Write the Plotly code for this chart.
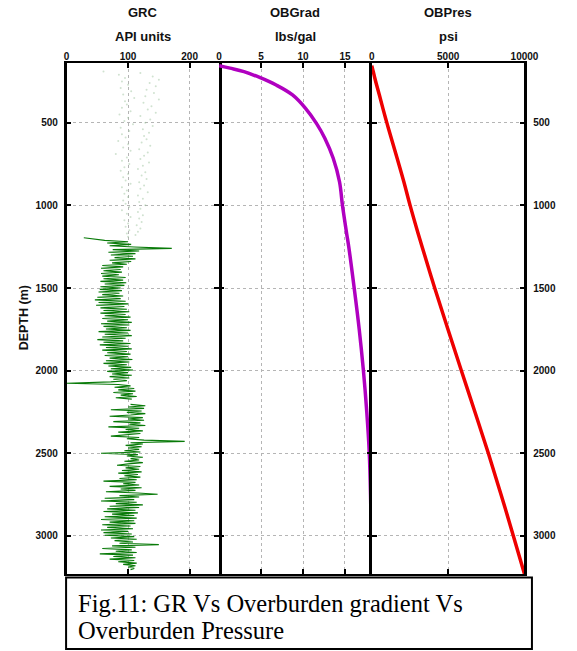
import plotly.graph_objects as go

# ---------------- data ----------------
depth_ticks = [500, 1000, 1500, 2000, 2500, 3000]

# faint (low quality) GR trace in the upper hole, sampled every 10 m from 190 m
gr_faint_top = 190
gr_faint_step = 10
gr_faint = [60, 120, 85, 140, 95, 150, 90, 135, 100, 145, 88, 130, 105, 142, 92, 128, 110, 150, 95, 125,
            98, 138, 90, 132, 104, 145, 86, 120, 100, 136, 94, 128, 108, 140, 88, 124, 102, 134, 90, 126,
            96, 130, 84, 122, 100, 136, 92, 118, 104, 132, 80, 126, 98, 120, 90, 134, 102, 124, 94, 116,
            88, 128, 100, 122, 92, 130, 96, 118, 104, 126, 90, 120, 98, 132, 94, 116, 100, 124, 92, 118,
            96, 128, 102, 120, 90, 116, 98, 124, 104, 118, 94, 122, 100, 114, 96, 120, 102, 116, 98, 112,
            100]

# GR log, sampled every 8 m from 1196 m
gr_top = 1196
gr_step = 8
gr = [28, 45, 62, 100, 66, 105, 70, 110, 171, 75,
      118, 68, 112, 72, 108, 78, 112, 70, 105, 74,
      98, 58, 92, 56, 88, 60, 90, 56, 85, 58,
      96, 60, 92, 55, 97, 62, 94, 55, 88, 54,
      90, 52, 86, 58, 92, 50, 88, 46, 96, 52,
      100, 48, 94, 55, 98, 60, 102, 55, 96, 62,
      104, 58, 100, 66, 106, 56, 102, 60, 98, 64,
      104, 52, 100, 62, 106, 58, 96, 50, 92, 60,
      104, 54, 100, 64, 106, 58, 98, 66, 104, 62,
      100, 70, 107, 64, 102, 60, 98, 68, 105, 72,
      108, 66, 100, 74, 106, 70, 102, 76, 98, 72,
      0, 84, 104, 78, 110, 84, 112, 76, 108, 88,
      114, 80, 106, None, None, None, 104, 128, 100, 126,
      72, 122, 98, 128, 104, 70, 124, 100, 126, 76,
      120, 102, 128, 68, 118, 96, 124, 84, 120, 100,
      72, 118, 98, 126, 192, 104, 124, 96, 122, 100,
      118, 94, 120, 56, 116, 98, 124, 104, 118, 94,
      124, 100, 82, 120, 96, 118, 90, 122, 84, 116,
      94, 120, 86, 114, 60, 112, 92, 118, 70, 122,
      88, 112, 64, 116, 148, 86, 118, 62, 110, 56,
      114, 80, 124, 70, 118, 66, 112, 60, 116, 74,
      110, 62, 114, 56, 110, 70, 112, 58, 104, 66,
      108, 56, 100, 60, 106, 62, 110, 72, 114, 78,
      108, 86, 150, 74, 112, 58, 106, 80, 114, 54,
      108, 76, 112, 70, 110, 84, 114, 92, 112, 100,
      110, 104]

ob_depth = [155, 170, 191, 228, 272, 332, 413, 504, 594, 715, 857, 1000,
            1170, 1250, 1500, 1750, 2000, 2250, 2500, 2750, 3000, 3230]
ob_grad = [0.0, 1.3, 2.96, 4.9, 6.8, 8.75, 10.3, 11.6, 12.6, 13.6, 14.35, 14.7,
           15.2, 15.45, 16.1, 16.7, 17.2, 17.6, 17.9, 18.05, 18.12, 18.15]
ob_pres = [0, 38, 96, 191, 316, 496, 726, 997, 1277, 1659, 2098, 2508,
           3034, 3294, 4120, 4986, 5869, 6756, 7634, 8469, 9274, 10000]

gr_ticks = [0, 100, 200]
obg_ticks = [0, 5, 10, 15]
obp_ticks = [0, 5000, 10000]

gr_faint_depth = [gr_faint_top + gr_faint_step * i for i in range(len(gr_faint))]
gr_depth = [gr_top + gr_step * i for i in range(len(gr))]

# ---------------- layout helpers ----------------
W, H = 577, 651
def px(x):
    return x / W
def py(y):
    return 1 - y / H

edges = [65.5, 222.7, 380.0, 537.3]
ytop, ybot = 62.7, 574.0

fig = go.Figure()
fig.add_trace(go.Scatter(x=gr_faint, y=gr_faint_depth, mode="markers",
                         marker=dict(color="rgba(150,190,150,0.45)", size=2, line=dict(width=0)),
                         xaxis="x", yaxis="y", showlegend=False))
fig.add_trace(go.Scatter(x=gr, y=gr_depth, mode="lines", connectgaps=False,
                         line=dict(color="#087a08", width=1.1),
                         xaxis="x", yaxis="y", showlegend=False))
fig.add_trace(go.Scatter(x=ob_grad, y=ob_depth, mode="lines", line_shape="spline",
                         line=dict(color="#b000c0", width=3.5),
                         xaxis="x2", yaxis="y2", showlegend=False))
fig.add_trace(go.Scatter(x=ob_pres, y=ob_depth, mode="lines", line_shape="spline",
                         line=dict(color="#ee0000", width=3.5),
                         xaxis="x3", yaxis="y3", showlegend=False))

tickfont = dict(family="Arial", size=10, color="#111111", weight="bold")
def ax(lw=2, **kw):
    d = dict(showline=True, linecolor="black", linewidth=lw, mirror="ticks",
             ticks="inside", ticklen=5, tickwidth=2, tickcolor="black",
             showgrid=True, gridcolor="#b5b5b5", griddash="dot", gridwidth=1,
             zeroline=False, tickfont=tickfont)
    d.update(kw)
    return d

yrange = [3230, 137]

fig.update_layout(
    width=W, height=H, autosize=False,
    margin=dict(l=0, r=0, t=0, b=0),
    paper_bgcolor="white", plot_bgcolor="white",
    xaxis=ax(domain=[px(edges[0]), px(edges[1])], range=[0, 248], side="top",
             anchor="y", tickvals=gr_ticks, ticktext=[str(v) for v in gr_ticks],
             ticklabelstandoff=-3),
    xaxis2=ax(domain=[px(edges[1]), px(edges[2])], range=[0, 18.2], side="top",
              anchor="y2", tickvals=obg_ticks, ticktext=[str(v) for v in obg_ticks],
              ticklabelstandoff=-3),
    xaxis3=ax(domain=[px(edges[2]), px(edges[3])], range=[0, 10000], side="top",
              anchor="y3", tickvals=obp_ticks, ticktext=[str(v) for v in obp_ticks],
              ticklabelstandoff=-3),
    yaxis=ax(lw=2.5, domain=[py(ybot), py(ytop)], range=yrange, anchor="x",
             tickvals=depth_ticks, ticklabelstandoff=4),
    yaxis2=ax(domain=[py(ybot), py(ytop)], range=yrange, anchor="x2", showline=False,
              tickvals=depth_ticks, showticklabels=False),
    yaxis3=ax(lw=2.5, domain=[py(ybot), py(ytop)], range=yrange, anchor="x3", side="right",
              tickvals=depth_ticks, ticklabelstandoff=4),
)

title_font = dict(family="Arial", size=13, color="#111111", weight="bold")
titles = [("GRC", "API units"), ("OBGrad", "lbs/gal"), ("OBPres", "psi")]
for i, (t1, t2) in enumerate(titles):
    cx = px((edges[i] + edges[i + 1]) / 2)
    fig.add_annotation(x=cx, y=py(12), xref="paper", yref="paper", text=t1,
                       showarrow=False, font=title_font, xanchor="center", yanchor="middle")
    fig.add_annotation(x=cx, y=py(36.5), xref="paper", yref="paper", text=t2,
                       showarrow=False, font=title_font, xanchor="center", yanchor="middle")

fig.add_annotation(x=px(22), y=py(318), xref="paper", yref="paper", text="DEPTH (m)",
                   textangle=-90, showarrow=False,
                   font=dict(family="Arial", size=12.5, color="#111111", weight="bold"),
                   xanchor="center", yanchor="middle")

# caption box
fig.add_shape(type="rect", xref="paper", yref="paper",
              x0=px(65), x1=px(545), y0=py(649), y1=py(577.5),
              line=dict(color="black", width=2), fillcolor="white")
cap_font = dict(family="Liberation Serif, Times New Roman, serif", size=24.5, color="black")
fig.add_annotation(x=px(75), y=py(603), xref="paper", yref="paper",
                   text="Fig.11: GR Vs Overburden gradient Vs", showarrow=False,
                   font=cap_font, xanchor="left", yanchor="middle")
fig.add_annotation(x=px(75), y=py(630), xref="paper", yref="paper",
                   text="Overburden Pressure", showarrow=False,
                   font=cap_font, xanchor="left", yanchor="middle")

fig.write_html("out.html", config={"responsive": False})
